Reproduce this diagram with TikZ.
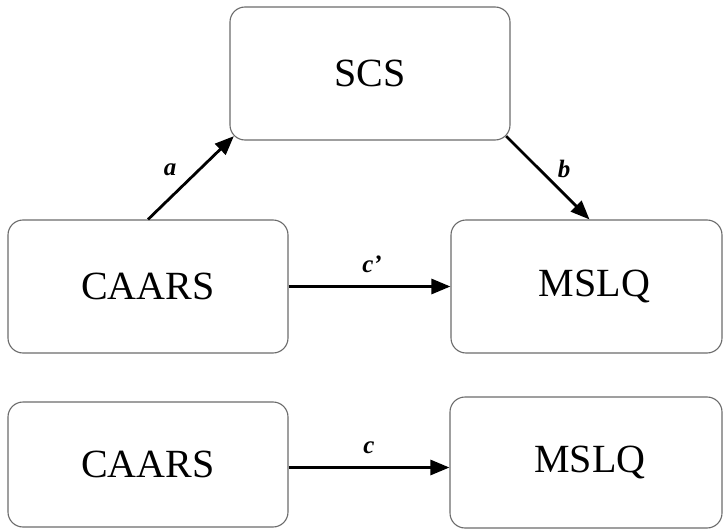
\documentclass[tikz,border=0pt]{standalone}
\usepackage{fontspec}
\setmainfont{Liberation Serif}
\usetikzlibrary{arrows.meta,calc}
\begin{document}
\begin{tikzpicture}[x=1pt,y=-1pt,
  box/.style={draw=black!58, line width=1.1pt, rounded corners=15pt, minimum width=280pt, minimum height=133pt, inner sep=0pt, font=\fontsize{40}{44}\selectfont},
  conn/.style={line width=2.8pt, -{Triangle[length=19pt,width=15pt]}},
  lbl/.style={font=\fontsize{25}{28}\selectfont\bfseries\itshape, inner sep=0pt, anchor=base}]
\useasboundingbox (0,0) rectangle (724,530);
\node[box] (scs) at (370,73.5) {SCS};
\node[box] (c1) at (148,286.5) {CAARS};
\node[box, minimum width=271pt] (m1) at (586.5,286.5) {\hspace*{16pt}MSLQ};
\node[box, minimum height=125pt] (c2) at (148,464.5) {CAARS};
\node[box, minimum width=272pt, minimum height=131pt] (m2) at (586,462.5) {\hspace*{8pt}MSLQ};
\coordinate (cs) at ($(c2.east)+(0,3)$);
\draw[conn] (c1.north) -- ($(scs.south west)+(4.4,-4.4)$);
\draw[conn] ($(scs.south east)+(-4.4,-4.4)$) -- ($(m1.north)+(3,0)$);
\draw[conn] (c1.east) -- (c1.east -| m1.west);
\draw[conn] (cs) -- (cs -| m2.west);
\node[lbl] (la) at (170,175.5) {a};
\node[lbl] (lb) at (564,177) {b};
\node[lbl] (lcp) at (372,272) {c’};
\node[lbl] (lc) at (369,453) {c};
\end{tikzpicture}
\end{document}
